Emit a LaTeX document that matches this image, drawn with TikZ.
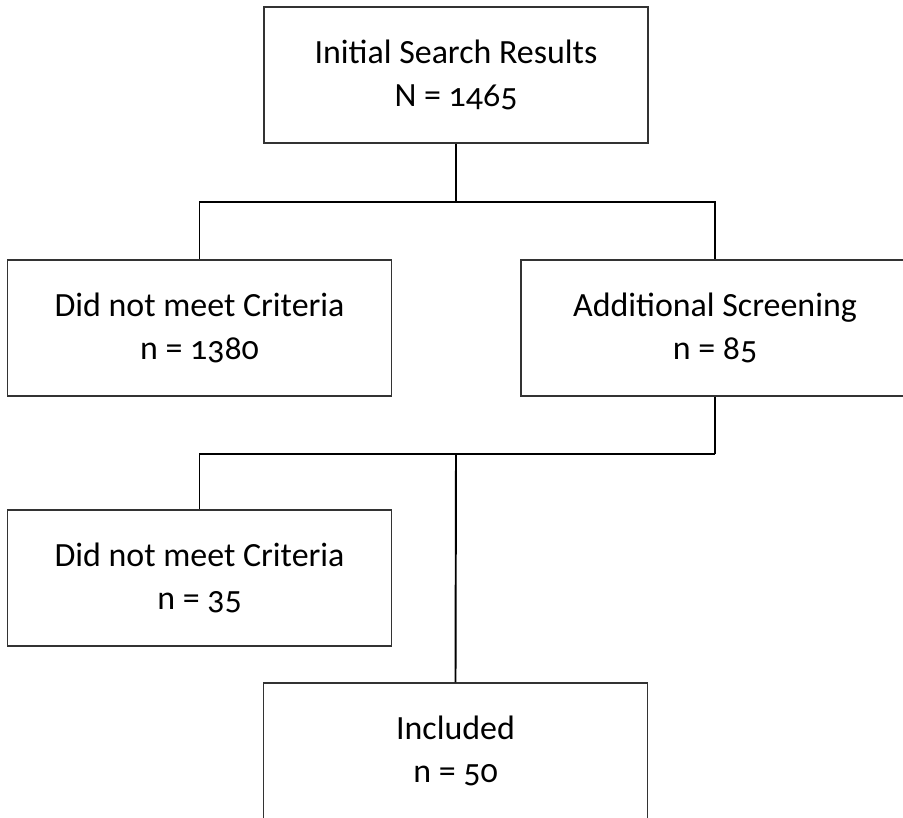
\documentclass[tikz,border=0pt]{standalone}
\usepackage{fontspec}
\setmainfont{Carlito}[Numbers=OldStyle]
\usepackage{tikz}
\usetikzlibrary{positioning}

\begin{document}
\begin{tikzpicture}[
  box/.style={rectangle,draw=black!80,line width=0.6pt,minimum width=7.68cm,minimum height=2.72cm,align=center,font=\fontsize{19.3}{24.5}\selectfont},
  link/.style={draw=black,line width=1.1pt}]
\useasboundingbox (0,0) rectangle (18.06,-16.36);
% \draw[help lines] (0,0) grid (18,-16);
\node (init) [box] at (9.12,-1.5) {Initial Search Results\\N = 1465};
\node (excl1) [box] at (3.99,-6.56) {Did not meet Criteria\\n = 1380};
\node (screen) [box,minimum width=7.76cm] at (14.30,-6.56) {Additional Screening\\n = 85};
\node (excl2) [box] at (3.99,-11.56) {Did not meet Criteria\\n = 35};
\node (incl) [box] at (9.11,-15.02) {Included\\n = 50};
%
\coordinate (split1) at (9.12,-4.04);
\coordinate (merge) at (9.12,-9.08);
\coordinate (split2) at (screen.south |- merge);
%
\path[link] (init.south) -- (split1);
\path[link] (split1) -| (excl1.north);
\path[link] (split1) -| (screen.north);
\path[link] (screen.south) -- (split2);
\path[link] (split2) -| (excl2.north);
\path[link] (merge) -- (incl.north);
\end{tikzpicture}
\end{document}
